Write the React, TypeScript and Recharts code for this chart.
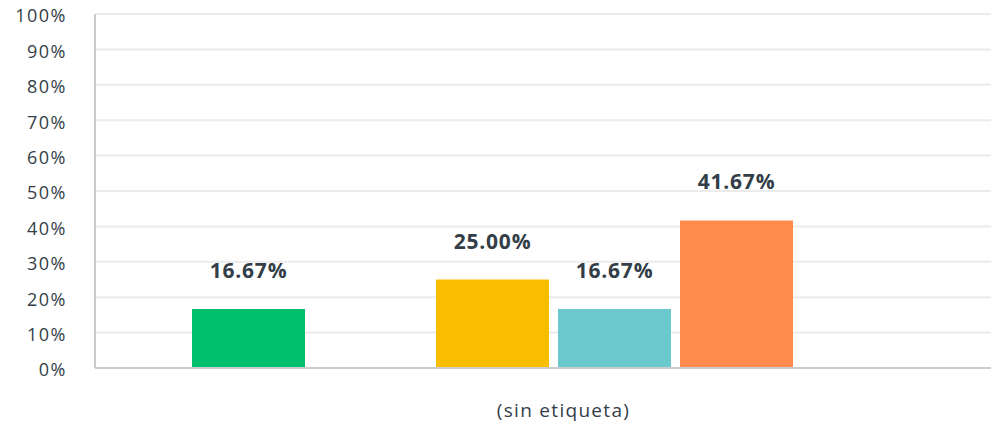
import { BarChart, Bar, XAxis, YAxis, CartesianGrid, LabelList } from "recharts";

const categories = ["(sin etiqueta)"];
const seriesNames = ["Opción 1", "Opción 2", "Opción 3", "Opción 4", "Opción 5"];
const seriesValues = [16.67, 0, 25.0, 16.67, 41.67];
const seriesColors = ["#00bf6f", "#a3a3a3", "#f9be00", "#6bc8cd", "#ff8b4f"];
const yTicks = [0, 10, 20, 30, 40, 50, 60, 70, 80, 90, 100];

const TEXT = "#333e48";
const FONT = "'Open Sans', sans-serif";

const data = categories.map((name) => {
  const row: Record<string, string | number> = { name };
  seriesNames.forEach((s, i) => {
    row[s] = seriesValues[i];
  });
  return row;
});

function CategoryTick({ x = 0, y = 0, payload }: { x?: number; y?: number; payload?: { value: string } }) {
  return (
    <text
      x={x + 71}
      y={y + 41}
      textAnchor="middle"
      fill={TEXT}
      fontSize={19}
      letterSpacing={1.3}
      fontFamily={FONT}
    >
      {payload?.value}
    </text>
  );
}

export default function App() {
  return (
    <div style={{ position: "absolute", left: 0, top: 0, background: "#fff" }}>
      <BarChart
        width={991}
        height={423}
        data={data}
        margin={{ top: 14, right: 0, bottom: 0, left: 0 }}
        barGap={9}
        barSize={113}
      >
        <CartesianGrid vertical={false} stroke="#ebebeb" strokeWidth={2} />
        <XAxis
          dataKey="name"
          height={55}
          padding={{ left: 0, right: 101 }}
          axisLine={{ stroke: "#cccccc", strokeWidth: 2 }}
          tickLine={false}
          tick={<CategoryTick />}
        />
        <YAxis
          width={95}
          domain={[0, 100]}
          ticks={yTicks}
          interval={0}
          tickFormatter={(v) => `${v}%`}
          axisLine={{ stroke: "#cccccc", strokeWidth: 2 }}
          tickLine={false}
          tickSize={0}
          tickMargin={28}
          tick={{ fill: TEXT, fontSize: 18, fontFamily: FONT, letterSpacing: 1.5, dy: 2 }}
        />
        {seriesNames.map((s, i) => (
          <Bar key={s} dataKey={s} fill={seriesColors[i]} isAnimationActive={false}>
            <LabelList
              dataKey={s}
              position="top"
              offset={31}
              formatter={(v: number) => (v > 0 ? `${v.toFixed(2)}%` : "")}
              fill={TEXT}
              fontSize={21}
              fontWeight={700}
              letterSpacing={0.8}
              fontFamily={FONT}
            />
          </Bar>
        ))}
      </BarChart>
    </div>
  );
}
